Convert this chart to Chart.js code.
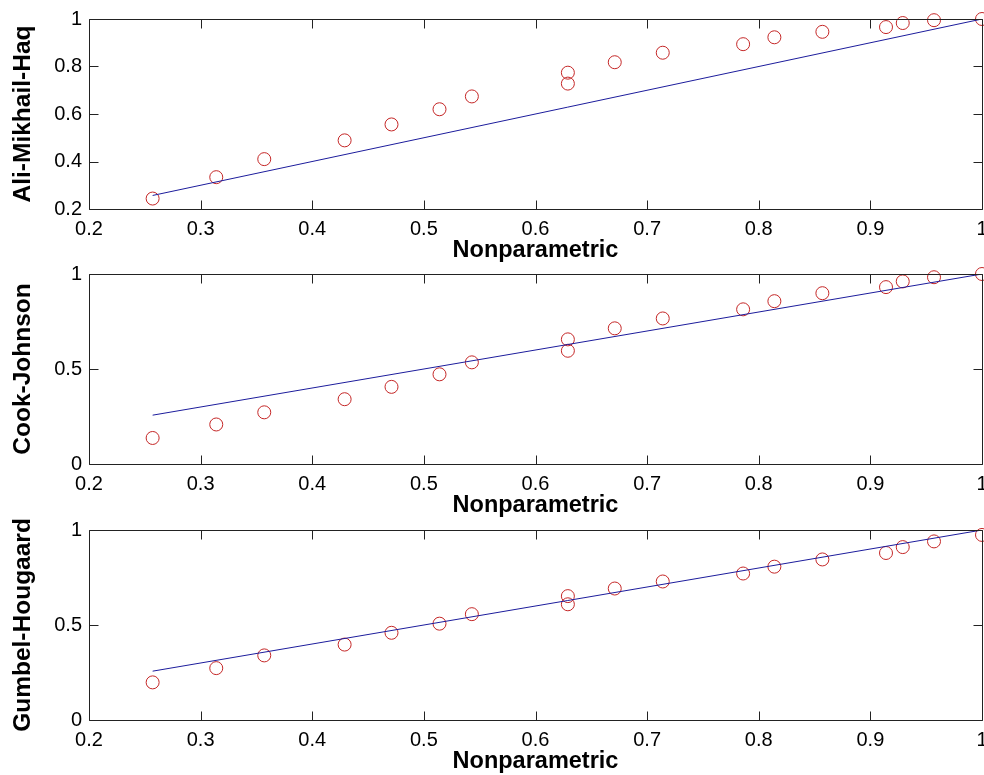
<!DOCTYPE html>
<html>
<head>
<meta charset="utf-8">
<title>Copula vs nonparametric</title>
<script src="https://cdn.jsdelivr.net/npm/chart.js@4.4.1/dist/chart.umd.min.js"></script>
<style>
  body { margin: 0; background: #fff; overflow: hidden; width: 984px; height: 775px; position: relative; }
  canvas { position: absolute; left: 0; }
</style>
</head>
<body>
<canvas id="chart1" width="1000" height="267" style="top:0px"></canvas>
<canvas id="chart2" width="1000" height="267" style="top:255px"></canvas>
<canvas id="chart3" width="1000" height="267" style="top:511px"></canvas>
<script>
'use strict';

// nonparametric values (x of every circle)
let nonparametric = [0.257, 0.314, 0.357, 0.429, 0.471, 0.514, 0.543, 0.629, 0.629,
  0.671, 0.714, 0.786, 0.814, 0.857, 0.914, 0.929, 0.957, 1.0];

let aliMikhailHaq = [0.244, 0.334, 0.410, 0.489, 0.556, 0.620, 0.674, 0.728, 0.774,
  0.818, 0.858, 0.894, 0.923, 0.946, 0.966, 0.983, 0.995, 1.0];
let cookJohnson = [0.137, 0.208, 0.272, 0.341, 0.406, 0.472, 0.535, 0.596, 0.656,
  0.714, 0.766, 0.814, 0.857, 0.899, 0.931, 0.961, 0.983, 1.0];
let gumbelHougaard = [0.198, 0.273, 0.340, 0.397, 0.459, 0.507, 0.557, 0.609, 0.652,
  0.692, 0.729, 0.771, 0.807, 0.845, 0.879, 0.910, 0.940, 0.974];

// the reference diagonal
let lineX = [0.257, 1.0];
let lineY = [0.257, 1.0];

let xTicks = [0.2, 0.3, 0.4, 0.5, 0.6, 0.7, 0.8, 0.9, 1];
let yTicksAmh = [0.2, 0.4, 0.6, 0.8, 1];
let yTicksHalf = [0, 0.5, 1];

let fontFamily = '"Liberation Sans", Arial, Helvetica, sans-serif';
let axisColor = '#222';
let tickLen = 9;

let boxTicks = {
  id: 'boxTicks',
  afterDraw(chart) {
    let ctx = chart.ctx;
    let a = chart.chartArea;
    let xs = chart.scales.x;
    let ys = chart.scales.y;
    let left = Math.round(a.left) + 0.5;
    let right = Math.round(a.right) + 0.5;
    let top = Math.round(a.top) + 0.5;
    let bottom = Math.round(a.bottom) + 0.5;
    ctx.save();
    ctx.strokeStyle = axisColor;
    ctx.lineWidth = 1;
    ctx.beginPath();
    for (let i = 0; i < xs.ticks.length; i++) {
      let px = Math.round(xs.getPixelForTick(i)) + 0.5;
      ctx.moveTo(px, bottom);
      ctx.lineTo(px, bottom - tickLen);
      ctx.moveTo(px, top);
      ctx.lineTo(px, top + tickLen);
    }
    for (let i = 0; i < ys.ticks.length; i++) {
      let py = Math.round(ys.getPixelForTick(i)) + 0.5;
      ctx.moveTo(left, py);
      ctx.lineTo(left + tickLen, py);
      ctx.moveTo(right, py);
      ctx.lineTo(right - tickLen, py);
    }
    ctx.rect(left, top, right - left, bottom - top);
    ctx.stroke();
    ctx.restore();
  }
};

function toPoints(xs, ys) {
  let pts = [];
  for (let i = 0; i < xs.length; i++) {
    pts.push({ x: xs[i], y: ys[i] });
  }
  return pts;
}

// matlab style labels: 1 instead of 1.0
function plainLabel(value) {
  return String(Math.round(value * 100) / 100);
}

function makeChart(id, yLabel, yValues, yMin, yTicks) {
  let ctx = document.getElementById(id).getContext('2d');
  return new Chart(ctx, {
    type: 'scatter',
    data: {
      datasets: [
        {
          label: 'diagonal',
          data: toPoints(lineX, lineY),
          showLine: true,
          borderColor: '#1c1c9c',
          borderWidth: 1,
          pointRadius: 0,
          fill: false
        },
        {
          label: yLabel,
          data: toPoints(nonparametric, yValues),
          pointStyle: 'circle',
          pointRadius: 6.5,
          pointBorderWidth: 1,
          pointBorderColor: '#c42626',
          pointBackgroundColor: 'rgba(0,0,0,0)',
          clip: false
        }
      ]
    },
    options: {
      responsive: false,
      animation: false,
      events: [],
      layout: { padding: { top: 16, right: 18, bottom: 0, left: 0 } },
      plugins: { legend: { display: false }, tooltip: { enabled: false } },
      scales: {
        x: {
          type: 'linear',
          min: 0.2,
          max: 1,
          afterBuildTicks: function (scale) {
            scale.ticks = xTicks.map(v => ({ value: v }));
          },
          afterFit: function (scale) { scale.height = 58; },
          grid: { display: false, drawTicks: false },
          border: { display: false },
          ticks: { color: '#000', padding: 8, maxRotation: 0, autoSkip: false,
            callback: plainLabel,
            font: { family: fontFamily, size: 20 } },
          title: { display: true, text: 'Nonparametric', color: '#000',
            padding: { top: 0, bottom: 2 },
            font: { family: fontFamily, size: 23.5, weight: 'bold' } }
        },
        y: {
          type: 'linear',
          min: yMin,
          max: 1,
          afterBuildTicks: function (scale) {
            scale.ticks = yTicks.map(v => ({ value: v }));
          },
          afterFit: function (scale) { scale.width = 89; },
          grid: { display: false, drawTicks: false },
          border: { display: false },
          ticks: { color: '#000', padding: 7, autoSkip: false,
            callback: plainLabel,
            font: { family: fontFamily, size: 20 } },
          title: { display: true, text: yLabel, color: '#000',
            padding: { top: 9, bottom: 0 },
            font: { family: fontFamily, size: 24.5, weight: 'bold' } }
        }
      }
    },
    plugins: [boxTicks]
  });
}

makeChart('chart1', 'Ali-Mikhail-Haq', aliMikhailHaq, 0.2, yTicksAmh);
makeChart('chart2', 'Cook-Johnson', cookJohnson, 0, yTicksHalf);
makeChart('chart3', 'Gumbel-Hougaard', gumbelHougaard, 0, yTicksHalf);
</script>
</body>
</html>
